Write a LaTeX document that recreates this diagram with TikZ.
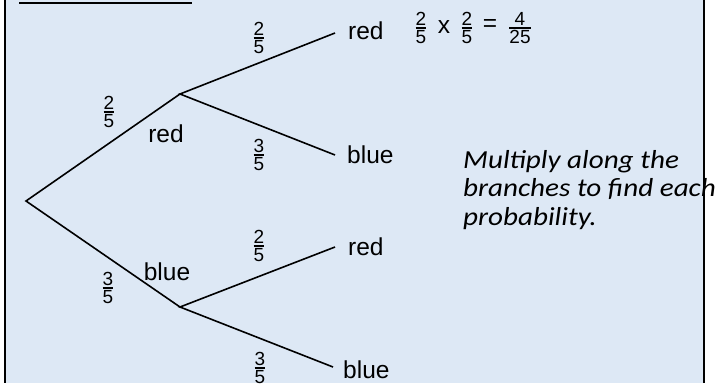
\documentclass[tikz,border=0pt]{standalone}
\usepackage{fontspec}
\setmainfont{Liberation Sans}
\newfontfamily\calib[FakeStretch=1.12]{Carlito}
\definecolor{bgblue}{HTML}{DDE8F5}
\newcommand\fr[2]{{\fontsize{19}{19}\selectfont\setbox0\hbox{#1}\setbox2\hbox{#2}%
 \dimen0=\wd0 \ifdim\wd2>\dimen0 \dimen0=\wd2\fi
 \vbox{\hbox to\dimen0{\hfil\box0\hfil}\kern1.6pt\hrule height1.6pt\kern1.8pt\hbox to\dimen0{\hfil\box2\hfil}}}}
\begin{document}
\begin{tikzpicture}[x=1pt,y=-1pt,
  branch/.style={line width=1.6pt},
  border/.style={line width=2pt},
  lbl/.style={inner sep=0pt, font=\fontsize{24.5}{29}\selectfont},
  frac/.style={inner sep=0pt},
  note/.style={inner sep=0pt, align=left, font=\calib\itshape\fontsize{26}{28.5}\selectfont}]
\useasboundingbox (0,0) rectangle (722,383);
\fill[white] (0,0) rectangle (722,383);
\fill[bgblue] (5,0) rectangle (704,383);
% heading underline (heading itself is cropped)
\coordinate (ul1) at (19,3);
\coordinate (ul2) at (192,3);
\draw[border] (ul1) -- (ul2);
% tree points
\coordinate (root) at (26,201);
\coordinate (r) at (180,94);
\coordinate (b) at (180,307);
\coordinate (rr) at (335,33);
\coordinate (rb) at (335,155);
\coordinate (brd) at (335,247);
\coordinate (bb) at (333,367);
\draw[branch, line join=miter] (rr) -- (r) -- (rb);
\draw[branch, line join=miter] (brd) -- (b) -- (bb);
\draw[branch, line join=miter] (r) -- (root) -- (b);
% outcome labels
\node[lbl, anchor=west] (lrr) at (348,31) {red};
\node[lbl, anchor=west] (lrb) at (347,155) {blue};
\node[lbl, anchor=west] (lbr) at (348,247) {red};
\node[lbl, anchor=west] (lbb) at (343,370) {blue};
\node[lbl] (lr) at (166,134) {red};
\node[lbl] (lb) at (167,272) {blue};
% probabilities
\node[frac] (f1) at (109,112) {\fr{2}{5}};
\node[frac] (f2) at (108,288) {\fr{3}{5}};
\node[frac] (f3) at (259,38) {\fr{2}{5}};
\node[frac] (f4) at (259,155) {\fr{3}{5}};
\node[frac] (f5) at (259,246) {\fr{2}{5}};
\node[frac] (f6) at (260,368) {\fr{3}{5}};
% equation
\node[frac] (ea) at (421,28) {\fr{2}{5}};
\node[lbl] (ex) at (444,27) {x};
\node[frac] (eb) at (467,28) {\fr{2}{5}};
\node[lbl] (eq) at (490,25) {=};
\node[frac] (ec) at (520,28) {\fr{4}{25}};
% note
\node[note, anchor=base west] (txt) at (463,225) {Multiply along the\\branches to find each\\probability.};
% borders
\coordinate (bl1) at (5,0);
\coordinate (bl2) at (5,383);
\coordinate (br1) at (703.5,0);
\coordinate (br2) at (703.5,383);
\draw[border] (bl1) -- (bl2);
\draw[border] (br1) -- (br2);
\end{tikzpicture}
\end{document}
